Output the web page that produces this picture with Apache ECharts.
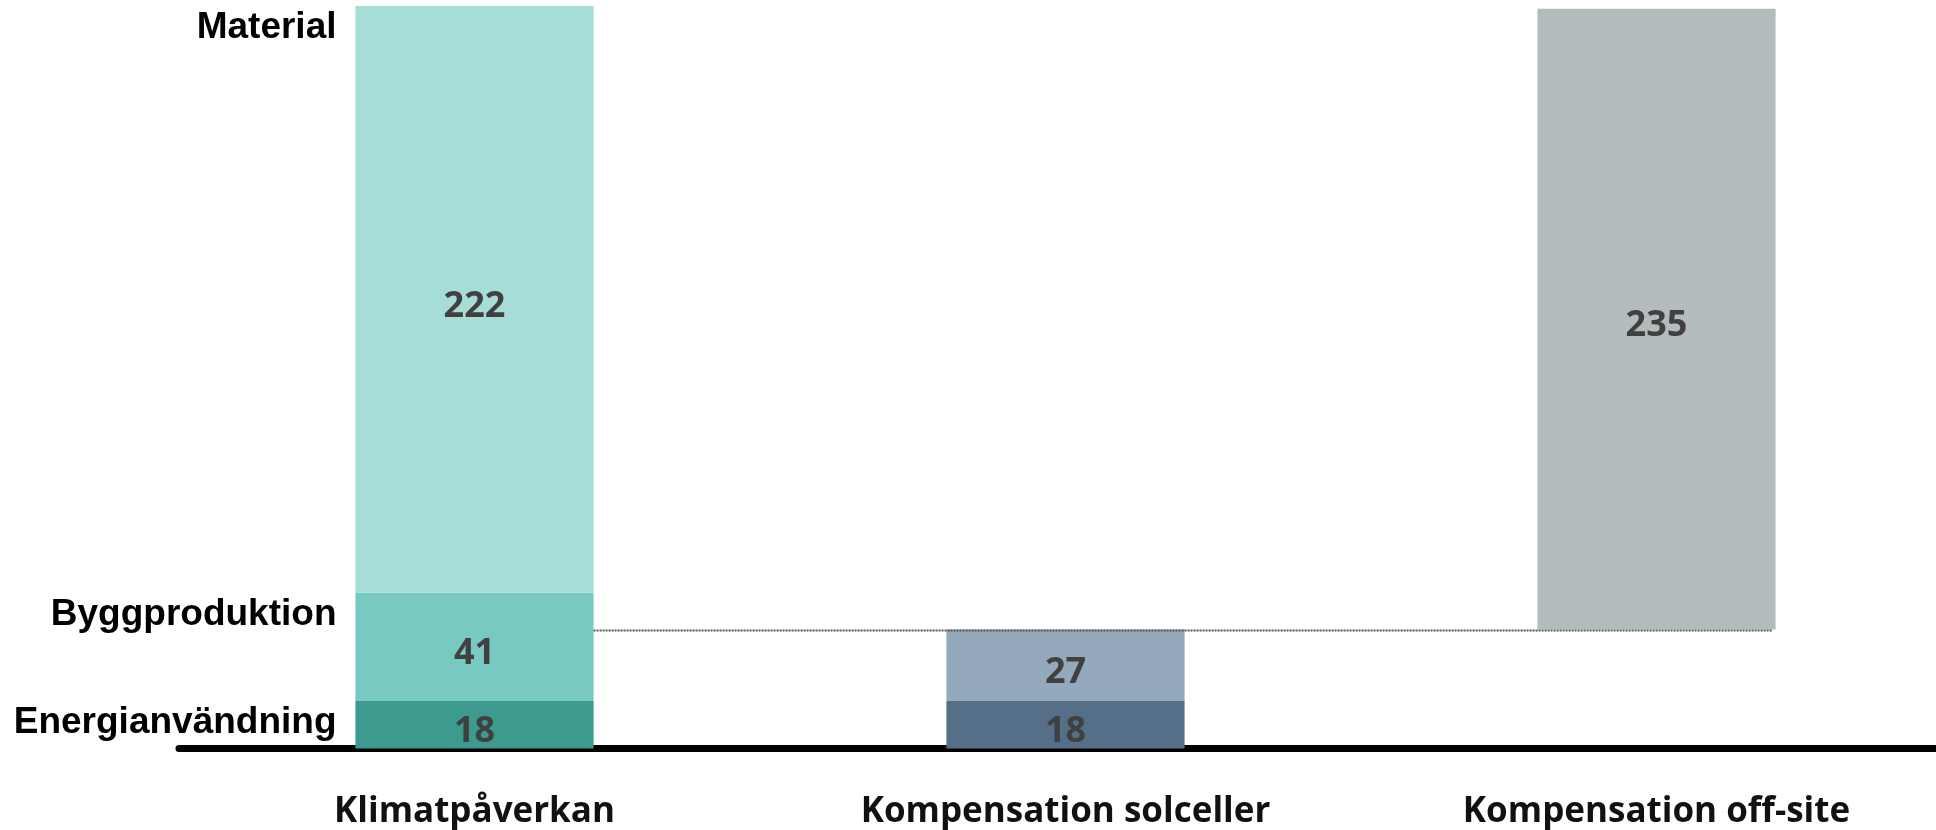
<!DOCTYPE html>
<html>
<head>
<meta charset="utf-8">
<script src="https://cdn.jsdelivr.net/npm/echarts@6/dist/echarts.min.js"></script>
<style>
html,body{margin:0;padding:0;background:#fff;overflow:hidden;}
#chart{width:1952px;height:830px;}
</style>
</head>
<body>
<div id="chart"></div>
<script>
// ---- data ----
const categories = ['Klimatpåverkan', 'Kompensation solceller', 'Kompensation off-site'];
const energi = [18, 18, null];          // Energianvändning
const bygg = [41, 27, null];            // Byggproduktion / solceller upper part
const material = [222, null, null];     // Material
const offsite = [null, null, 235];      // Kompensation off-site
const sideLabels = ['Energianvändning', 'Byggproduktion', 'Material'];

// ---- derived ----
const offsiteBaseVal = energi[1] + bygg[1];
const offsiteBase = [null, null, offsiteBaseVal];
const bar1Tops = [energi[0], energi[0] + bygg[0], energi[0] + bygg[0] + material[0]];

const BAR_FRAC = 0.403;
const valueLabel = {
  show: true, position: 'inside', color: '#404040', offset: [0, 7],
  fontFamily: 'Open Sans', fontWeight: 'bold', fontSize: 36,
  formatter: p => p.value
};
function colored(arr, colors) {
  return arr.map((v, i) => v == null ? '-' : { value: v, itemStyle: { color: colors[i] } });
}

const chart = echarts.init(document.getElementById('chart'), null, { renderer: 'canvas' });
chart.setOption({
  animation: false,
  grid: { left: 179, right: 0, top: 6, bottom: 81, containLabel: false },
  xAxis: {
    type: 'category', data: categories, offset: 3.5,
    axisLine: { show: true, lineStyle: { color: '#000', width: 7 } },
    axisTick: { show: false },
    axisLabel: { interval: 0, margin: 43, color: '#111', fontFamily: 'Open Sans', fontWeight: 'bold', fontSize: 35 },
    splitLine: { show: false }
  },
  yAxis: { type: 'value', min: 0, max: bar1Tops[2], show: false, splitLine: { show: false } },
  series: [
    { type: 'bar', stack: 't', barWidth: (BAR_FRAC * 100) + '%', data: colored(energi, ['#3D9A8E', '#566F89']), label: valueLabel },
    { type: 'bar', stack: 't', data: colored(bygg, ['#78C9C1', '#95A9BC']), label: valueLabel },
    { type: 'bar', stack: 't', data: colored(material, ['#A6DDD7']), label: valueLabel },
    { type: 'bar', stack: 't', data: offsiteBase.map(v => v == null ? '-' : v), itemStyle: { color: 'transparent' }, label: { show: false } },
    { type: 'bar', stack: 't', data: colored(offsite, [null, null, '#B4BBBC']), label: valueLabel },
    {
      type: 'scatter', symbolSize: 0, itemStyle: { color: '#000', opacity: 1 }, z: 5,
      data: bar1Tops.map((v, i) => ({ value: [0, v], name: sideLabels[i] })),
      label: {
        show: true, position: 'left', distance: 138, offset: [0, 22], opacity: 1,
        formatter: p => p.name, color: '#000000',
        fontFamily: 'Liberation Sans', fontWeight: 'bold', fontSize: 37
      }
    },
    {
      type: 'custom', z: 10,
      data: [[0, offsiteBaseVal]],
      renderItem: function (params, api) {
        const y = api.value(1);
        const p0 = api.coord([0, y]);
        const p2 = api.coord([2, y]);
        const half = api.size([1, 0])[0] * BAR_FRAC / 2;
        return {
          type: 'line',
          shape: { x1: p0[0] + half, y1: p0[1] + 1, x2: p2[0] + half - 4, y2: p2[1] + 1 },
          style: { stroke: '#555555', lineWidth: 2, lineDash: [2, 1] }
        };
      }
    }
  ]
});
</script>
</body>
</html>
